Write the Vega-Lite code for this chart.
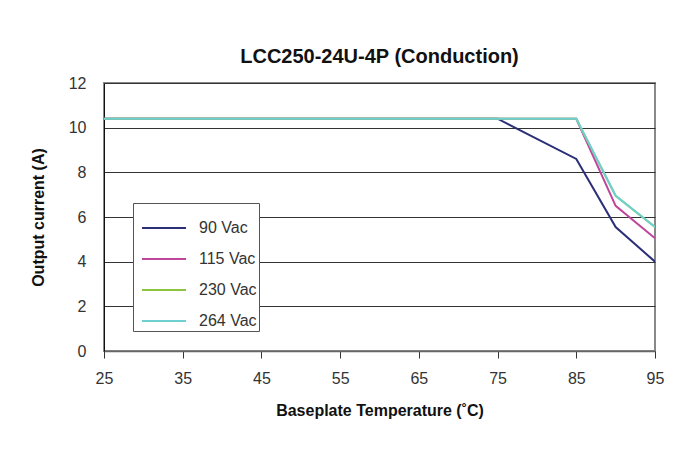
{
  "$schema": "https://vega.github.io/schema/vega-lite/v6.json",
  "autosize": {"type": "none"},
  "padding": {"left": 104, "top": 83, "right": 44, "bottom": 100},
  "width": 551,
  "height": 268,
  "background": "white",
  "title": {
    "text": "LCC250-24U-4P (Conduction)",
    "font": "Liberation Sans",
    "fontSize": 20,
    "fontWeight": "bold",
    "color": "#111",
    "anchor": "middle",
    "offset": 8
  },
  "data": {
    "values": [
      {"temp": 25, "current": 10.4, "input": "90 Vac"},
      {"temp": 75, "current": 10.4, "input": "90 Vac"},
      {"temp": 85, "current": 8.6, "input": "90 Vac"},
      {"temp": 90, "current": 5.55, "input": "90 Vac"},
      {"temp": 95, "current": 4.0, "input": "90 Vac"},
      {"temp": 25, "current": 10.4, "input": "115 Vac"},
      {"temp": 85, "current": 10.4, "input": "115 Vac"},
      {"temp": 90, "current": 6.5, "input": "115 Vac"},
      {"temp": 95, "current": 5.05, "input": "115 Vac"},
      {"temp": 25, "current": 10.4, "input": "230 Vac"},
      {"temp": 85, "current": 10.4, "input": "230 Vac"},
      {"temp": 90, "current": 6.95, "input": "230 Vac"},
      {"temp": 95, "current": 5.55, "input": "230 Vac"},
      {"temp": 25, "current": 10.4, "input": "264 Vac"},
      {"temp": 85, "current": 10.4, "input": "264 Vac"},
      {"temp": 90, "current": 6.95, "input": "264 Vac"},
      {"temp": 95, "current": 5.55, "input": "264 Vac"}
    ]
  },
  "mark": {"type": "line", "strokeWidth": 2, "clip": true},
  "encoding": {
    "x": {
      "field": "temp",
      "type": "quantitative",
      "title": "Baseplate Temperature (˚C)",
      "scale": {"domain": [25, 95], "nice": false, "zero": false},
      "axis": {
        "values": [25, 35, 45, 55, 65, 75, 85, 95],
        "grid": false,
        "labelFlush": false,
        "domainColor": "#666",
        "domainWidth": 1.5,
        "tickColor": "#333",
        "tickSize": 7,
        "labelPadding": 12,
        "titlePadding": 16
      }
    },
    "y": {
      "field": "current",
      "type": "quantitative",
      "title": "Output current (A)",
      "scale": {"domain": [0, 12], "nice": false},
      "axis": {
        "values": [0, 2, 4, 6, 8, 10, 12],
        "grid": true,
        "gridColor": "#333",
        "gridWidth": 1,
        "domainColor": "#111",
        "ticks": false,
        "labelPadding": 18,
        "titlePadding": 22
      }
    },
    "color": {
      "field": "input",
      "type": "nominal",
      "scale": {
        "domain": ["90 Vac", "115 Vac", "230 Vac", "264 Vac"],
        "range": ["#2b2f78", "#c0469c", "#8cc440", "#6fd0d2"]
      },
      "legend": {
        "title": null,
        "orient": "none",
        "legendX": 29,
        "legendY": 120,
        "symbolType": "stroke",
        "symbolSize": 1936,
        "symbolStrokeWidth": 2,
        "symbolOffset": 6,
        "labelFontSize": 16,
        "labelFont": "Liberation Sans",
        "labelColor": "#333",
        "labelOffset": 12,
        "rowPadding": 0,
        "padding": 2,
        "fillColor": "white",
        "strokeColor": "#555"
      }
    }
  },
  "config": {
    "view": {"stroke": "#888", "strokeWidth": 2},
    "axis": {
      "labelFont": "Liberation Sans",
      "labelFontSize": 16,
      "labelColor": "#333",
      "titleFont": "Liberation Sans",
      "titleFontSize": 16,
      "titleFontWeight": "bold",
      "titleColor": "#111"
    }
  }
}
